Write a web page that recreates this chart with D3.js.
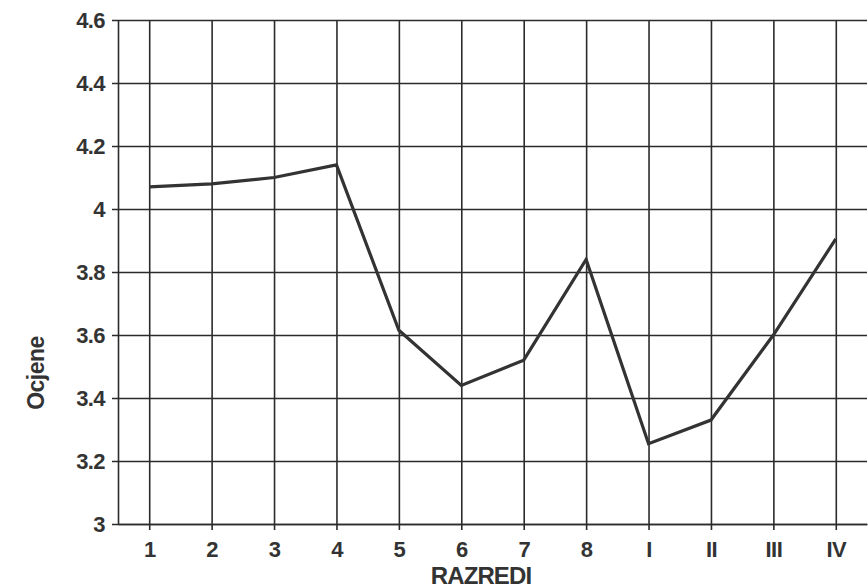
<!DOCTYPE html>
<html>
<head>
<meta charset="utf-8">
<script src="https://cdn.jsdelivr.net/npm/d3@7"></script>
<style>
	body { margin: 0; background: #fff; }
	svg { display: block; }
</style>
</head>
<body>
<div id="chart"></div>
<script>
// Data
var razredi = ['1', '2', '3', '4', '5', '6', '7', '8', 'I', 'II', 'III', 'IV'];
var ocjene = [4.07, 4.08, 4.10, 4.14, 3.615, 3.44, 3.52, 3.84, 3.255, 3.33, 3.60, 3.905];
var yTicks = [3, 3.2, 3.4, 3.6, 3.8, 4, 4.2, 4.4, 4.6];

var attrs = {
	svgWidth: 868,
	svgHeight: 588,
	marginTop: 20,
	marginLeft: 118,
	marginRight: 1,
	marginBottom: 64,
	ink: '#2b2b2b',
	font: '"Liberation Sans", Arial, Helvetica, sans-serif'
};

var calc = {};
calc.chartWidth = attrs.svgWidth - attrs.marginLeft - attrs.marginRight;
calc.chartHeight = attrs.svgHeight - attrs.marginTop - attrs.marginBottom;

var svg = d3.select('#chart').append('svg')
	.attr('width', attrs.svgWidth)
	.attr('height', attrs.svgHeight);

var g = svg.append('g')
	.attr('transform', 'translate(' + attrs.marginLeft + ',' + attrs.marginTop + ')');

var x = d3.scalePoint()
	.domain(razredi)
	.range([0, calc.chartWidth])
	.padding(0.5);

var y = d3.scaleLinear()
	.domain([3, 4.6])
	.range([calc.chartHeight, 0]);

// horizontal grid + y axis
var yAxis = g.append('g')
	.call(d3.axisLeft(y)
		.tickValues(yTicks)
		.tickSizeInner(-calc.chartWidth)
		.tickSizeOuter(0)
		.tickPadding(13)
		.tickFormat(d3.format('~g')));

yAxis.selectAll('.tick line').attr('x1', -6);

// vertical grid + x axis
var xAxis = g.append('g')
	.attr('transform', 'translate(0,' + calc.chartHeight + ')')
	.call(d3.axisBottom(x)
		.tickSizeInner(-calc.chartHeight)
		.tickSizeOuter(0)
		.tickPadding(14));

xAxis.selectAll('.tick line').attr('y1', 6);

[yAxis, xAxis].forEach(function (ax) {
	ax.selectAll('line, path')
		.attr('stroke', attrs.ink)
		.attr('stroke-width', 1.6);
	ax.selectAll('text')
		.attr('fill', '#333')
		.attr('font-family', attrs.font)
		.attr('font-weight', 'bold')
		.attr('font-size', 22)
		.attr('letter-spacing', -0.6);
});

xAxis.selectAll('text').attr('dy', '0.85em');

// data line
var line = d3.line()
	.x(function (d, i) { return x(razredi[i]); })
	.y(function (d) { return y(d); });

g.append('path')
	.datum(ocjene)
	.attr('fill', 'none')
	.attr('stroke', '#333')
	.attr('stroke-width', 3.2)
	.attr('stroke-linejoin', 'miter')
	.attr('d', line);

// axis titles
svg.append('text')
	.attr('transform', 'translate(44,373) rotate(-90)')
	.attr('text-anchor', 'middle')
	.attr('fill', '#333')
	.attr('font-family', attrs.font)
	.attr('font-weight', 'bold')
	.attr('font-size', 23)
	.attr('letter-spacing', -0.5)
	.text('Ocjene');

svg.append('text')
	.attr('x', 481)
	.attr('y', 584)
	.attr('text-anchor', 'middle')
	.attr('fill', '#333')
	.attr('font-family', attrs.font)
	.attr('font-weight', 'bold')
	.attr('font-size', 24)
	.attr('letter-spacing', -0.9)
	.text('RAZREDI');
</script>
</body>
</html>
